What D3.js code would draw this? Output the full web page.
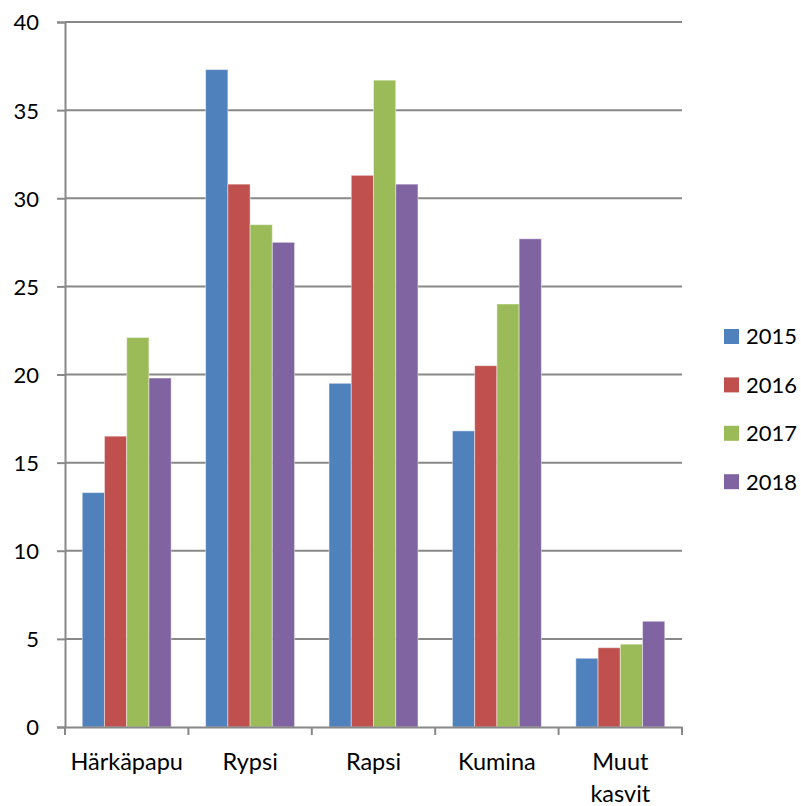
<!DOCTYPE html>
<html>
<head>
<meta charset="utf-8">
<script src="https://cdn.jsdelivr.net/npm/d3@7"></script>
<style>
  body { margin: 0; background: #fff; }
  svg text { font-family: Lato, "Open Sans", sans-serif; fill: #000; }
</style>
</head>
<body>
<script>
// chart data
const categories = ["Härkäpapu", "Rypsi", "Rapsi", "Kumina", "Muut kasvit"];
const years = ["2015", "2016", "2017", "2018"];
const v2015 = [13.3, 37.3, 19.5, 16.8, 3.9];
const v2016 = [16.5, 30.8, 31.3, 20.5, 4.5];
const v2017 = [22.1, 28.5, 36.7, 24.0, 4.7];
const v2018 = [19.8, 27.5, 30.8, 27.7, 6.0];
const yTicks = [0, 5, 10, 15, 20, 25, 30, 35, 40];

const seriesValues = [v2015, v2016, v2017, v2018];
const colors = ["#4F81BD", "#C0504D", "#9BBB59", "#8064A2"];

// set the dimensions
const width = 801, height = 806;
const plot = {left: 65, right: 682, top: 22, bottom: 727};

const svg = d3.select("body").append("svg")
    .attr("width", width)
    .attr("height", height);

// scales
const x0 = d3.scaleBand()
    .domain(categories)
    .range([plot.left, plot.right]);

const x1 = d3.scaleBand()
    .domain(years)
    .range([0, x0.bandwidth()])
    .paddingInner(0)
    .paddingOuter(0.775);

const y = d3.scaleLinear()
    .domain([0, 40])
    .range([plot.bottom, plot.top]);

const color = d3.scaleOrdinal().domain(years).range(colors);

// gridlines
svg.append("g")
    .selectAll("line")
    .data(yTicks.filter(d => d > 0))
    .enter()
    .append("line")
    .attr("x1", plot.left)
    .attr("x2", plot.right)
    .attr("y1", d => y(d))
    .attr("y2", d => y(d))
    .attr("stroke", "#888")
    .attr("stroke-width", 2);

// bars
const rows = categories.map((c, i) => ({
    category: c,
    values: years.map((yr, j) => ({year: yr, value: seriesValues[j][i]}))
}));

svg.append("g")
    .selectAll("g")
    .data(rows)
    .enter()
    .append("g")
    .attr("transform", d => `translate(${x0(d.category)},0)`)
    .selectAll("rect")
    .data(d => d.values)
    .enter()
    .append("rect")
    .attr("x", d => x1(d.year))
    .attr("y", d => y(d.value))
    .attr("width", x1.bandwidth())
    .attr("height", d => y(0) - y(d.value))
    .attr("fill", d => color(d.year))
    .attr("stroke", "rgba(255,255,255,0.45)")
    .attr("stroke-width", 1);

// y axis
const yAxis = svg.append("g")
    .attr("transform", `translate(${plot.left},0)`)
    .call(d3.axisLeft(y).tickValues(yTicks).tickSize(8).tickPadding(18));
yAxis.select(".domain").attr("stroke", "#888").attr("stroke-width", 2);
yAxis.selectAll(".tick line").attr("stroke", "#888").attr("stroke-width", 2);
yAxis.selectAll(".tick text")
    .style("font-size", "22px")
    .attr("dy", "0.36em");

// x axis
const xAxis = svg.append("g")
    .attr("transform", `translate(0,${plot.bottom})`)
    .call(d3.axisBottom(x0).tickSize(0).tickFormat(""));
xAxis.select(".domain").attr("stroke", "#888").attr("stroke-width", 2);

// category boundary ticks
svg.append("g")
    .selectAll("line")
    .data(categories.concat(["end"]))
    .enter()
    .append("line")
    .attr("x1", (d, i) => i < categories.length ? x0(d) : plot.right)
    .attr("x2", (d, i) => i < categories.length ? x0(d) : plot.right)
    .attr("y1", plot.bottom)
    .attr("y2", plot.bottom + 8)
    .attr("stroke", "#888")
    .attr("stroke-width", 2);

// category labels (wrapped on spaces)
svg.append("g")
    .selectAll("text")
    .data(categories)
    .enter()
    .append("text")
    .attr("x", d => x0(d) + x0.bandwidth() / 2)
    .attr("y", plot.bottom + 43)
    .attr("text-anchor", "middle")
    .style("font-size", "23.5px")
    .each(function(d) {
        const parts = d === "Muut kasvit" ? d.split(" ") : [d];
        d3.select(this).selectAll("tspan")
            .data(parts)
            .enter()
            .append("tspan")
            .attr("x", x0(d) + x0.bandwidth() / 2)
            .attr("dy", (p, k) => k === 0 ? 0 : 32)
            .text(p => p);
    });

// legend
const legend = svg.append("g")
    .selectAll("g")
    .data(years)
    .enter()
    .append("g")
    .attr("transform", (d, i) => `translate(724,${336.5 + i * 48.4})`);

legend.append("rect")
    .attr("x", 0)
    .attr("y", -7.5)
    .attr("width", 15)
    .attr("height", 15)
    .attr("fill", d => color(d));

legend.append("text")
    .attr("x", 22)
    .attr("y", 0)
    .attr("dy", "0.36em")
    .style("font-size", "22px")
    .text(d => d);
</script>
</body>
</html>
